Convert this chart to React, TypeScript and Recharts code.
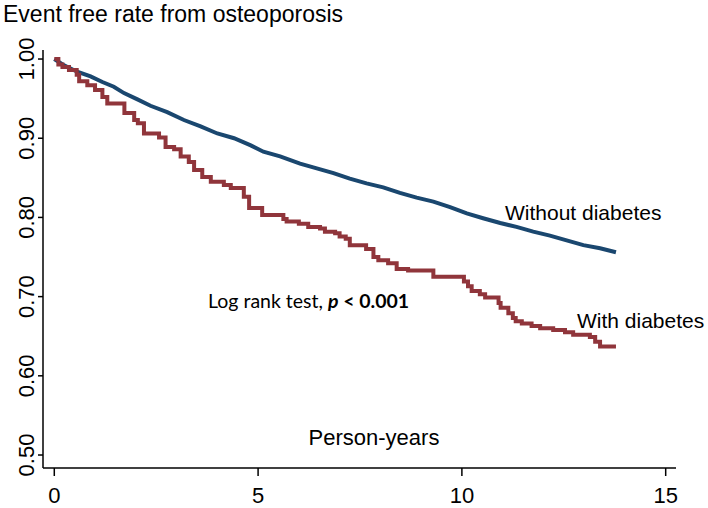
import React from "react";
import { LineChart, Line, XAxis, YAxis } from "recharts";

const title = "Event free rate from osteoporosis";
const xLabel = "Person-years";
const seriesNames = ["Without diabetes", "With diabetes"];
const xTicks = [0, 5, 10, 15];
const yTicks = [0.5, 0.6, 0.7, 0.8, 0.9, 1.0];

const withoutTimes = [0, 0.24, 0.56, 0.89, 1.18, 1.46, 1.71, 2.04, 2.36, 2.77, 3.18, 3.59, 4.0, 4.41, 4.82, 5.13, 5.54, 6.03, 6.44, 6.85, 7.25, 7.66, 8.07, 8.48, 8.89, 9.3, 9.71, 10.12, 10.52, 10.94, 11.34, 11.75, 12.16, 12.57, 12.98, 13.39, 13.78];
const withoutRates = [1.0, 0.992, 0.984, 0.978, 0.971, 0.965, 0.957, 0.949, 0.941, 0.933, 0.923, 0.915, 0.906, 0.9, 0.891, 0.883, 0.877, 0.868, 0.862, 0.856, 0.849, 0.843, 0.838, 0.831, 0.825, 0.82, 0.813, 0.805, 0.799, 0.793, 0.788, 0.782, 0.777, 0.771, 0.765, 0.761, 0.756];

const withTimes = [0, 0.1, 0.2, 0.36, 0.55, 0.61, 0.81, 1.0, 1.18, 1.3, 1.72, 1.96, 2.05, 2.2, 2.57, 2.73, 2.94, 3.1, 3.3, 3.43, 3.63, 3.84, 4.16, 4.33, 4.65, 4.78, 5.1, 5.62, 5.7, 6.0, 6.23, 6.52, 6.64, 6.89, 7.0, 7.15, 7.25, 7.65, 7.83, 7.95, 8.19, 8.4, 8.68, 9.3, 10.05, 10.15, 10.24, 10.44, 10.57, 10.9, 10.95, 11.14, 11.25, 11.32, 11.47, 11.71, 11.92, 12.24, 12.53, 12.73, 13.14, 13.27, 13.39, 13.78];
const withRates = [1.0, 0.993, 0.99, 0.986, 0.98, 0.972, 0.967, 0.961, 0.952, 0.944, 0.932, 0.923, 0.919, 0.906, 0.901, 0.889, 0.886, 0.877, 0.87, 0.86, 0.851, 0.845, 0.841, 0.837, 0.826, 0.812, 0.803, 0.798, 0.795, 0.792, 0.788, 0.786, 0.782, 0.78, 0.776, 0.773, 0.765, 0.76, 0.75, 0.746, 0.742, 0.735, 0.733, 0.725, 0.719, 0.713, 0.707, 0.703, 0.699, 0.692, 0.686, 0.679, 0.673, 0.669, 0.666, 0.663, 0.66, 0.658, 0.655, 0.652, 0.649, 0.643, 0.637, 0.637];

const withoutData = withoutTimes.map((t, i) => ({ t, v: withoutRates[i] }));
const withData = withTimes.map((t, i) => ({ t, v: withRates[i] }));

const FONT = "'Liberation Sans', Arial, sans-serif";

const YTick = (props: any) => {
  const { y, payload } = props;
  const bx = 34;
  return (
    <text x={bx} y={y} textAnchor="middle" fontFamily={FONT} fontSize={22} fill="#000" transform={`rotate(-90 ${bx} ${y})`}>
      {payload.value.toFixed(2)}
    </text>
  );
};

const XTick = (props: any) => {
  const { x, payload } = props;
  return (
    <text x={x} y={503} textAnchor="middle" fontFamily={FONT} fontSize={22} fill="#000">
      {payload.value}
    </text>
  );
};

export default function App() {
  return (
    <div style={{ position: "absolute", left: 0, top: 0, width: 708, height: 508, background: "#fff" }}>
      <LineChart width={708} height={508} margin={{ top: 50, right: 32, bottom: 0, left: 0 }}>
        <XAxis
          type="number"
          dataKey="t"
          domain={[-0.277, 15.253]}
          ticks={xTicks}
          allowDataOverflow
          axisLine={{ stroke: "#000", strokeWidth: 1.5 }}
          tickLine={{ stroke: "#000", strokeWidth: 1.5 }}
          tickSize={8}
          tick={<XTick />}
          height={40}
        />
        <YAxis
          type="number"
          dataKey="v"
          domain={[0.4836, 1.0114]}
          ticks={yTicks}
          allowDataOverflow
          axisLine={{ stroke: "#000", strokeWidth: 1.5 }}
          tickLine={{ stroke: "#000", strokeWidth: 1.5 }}
          tickSize={5}
          tick={<YTick />}
          width={43}
        />
        <Line data={withoutData} dataKey="v" type="linear" stroke="#1a476f" strokeWidth={4} dot={false} isAnimationActive={false} />
        <Line data={withData} dataKey="v" type="stepAfter" stroke="#90353b" strokeWidth={4} dot={false} isAnimationActive={false} />
      </LineChart>
      <svg width={708} height={508} style={{ position: "absolute", left: 0, top: 0, pointerEvents: "none" }}>
        <text x={3} y={22} fontFamily={FONT} fontSize={23} fill="#000">{title}</text>
        <text x={374} y={445} textAnchor="middle" fontFamily={FONT} fontSize={22} fill="#000">{xLabel}</text>
        <text x={505} y={220} fontFamily={FONT} fontSize={21} fill="#000">{seriesNames[0]}</text>
        <text x={577} y={328} fontFamily={FONT} fontSize={21} fill="#000">{seriesNames[1]}</text>
        <text x={208} y={308} fontFamily="Lato, 'Open Sans', sans-serif" fontSize={19.5} fill="#000">
          Log rank test,{"  "}
          <tspan fontWeight="bold" fontStyle="italic">p</tspan>
          <tspan fontWeight="bold">{" < 0.001"}</tspan>
        </text>
      </svg>
    </div>
  );
}
